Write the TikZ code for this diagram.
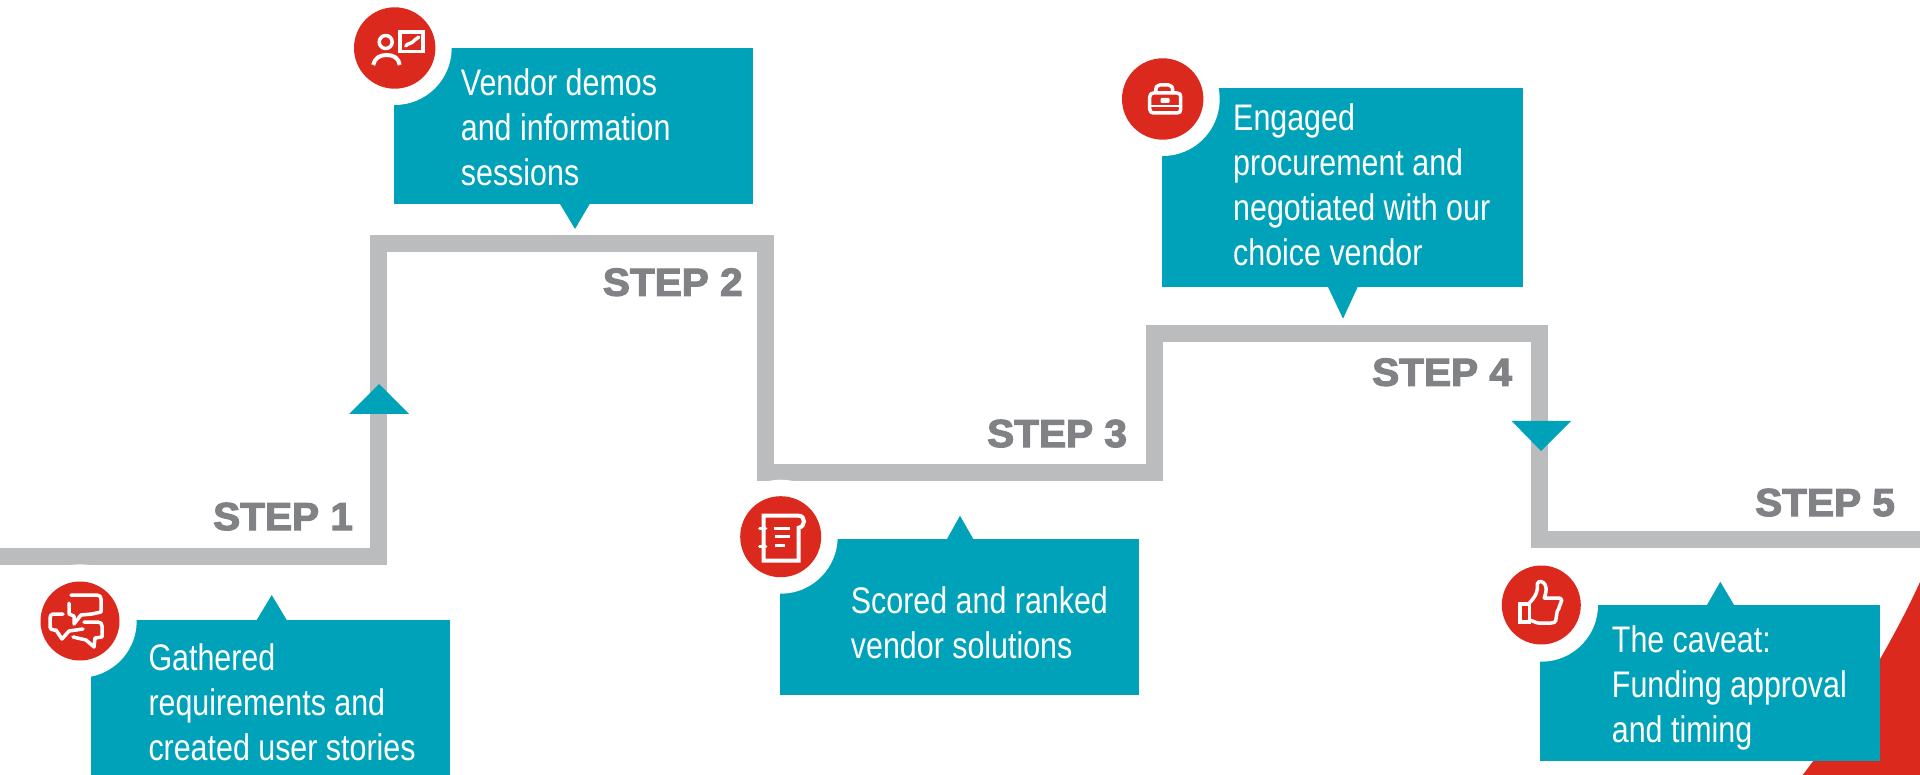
\documentclass[tikz,border=0pt]{standalone}
\usepackage{fontspec}
\setmainfont{Liberation Sans}
\newfontfamily\bodyfont[FakeStretch=0.822]{Liberation Sans}
\newfontfamily\stepfont[FakeBold=3,FakeStretch=1.04]{Liberation Sans Bold}
\definecolor{teal1}{HTML}{00A2B9}
\definecolor{red1}{HTML}{DC291E}
\definecolor{gray1}{HTML}{BBBCBE}
\definecolor{gray2}{HTML}{808285}
\tikzset{
  boxfill/.style={fill=teal1,draw=none},
  badge/.style={circle,fill=red1,draw=none,minimum size=80pt,inner sep=0pt},
  halo/.style={fill=white,draw=none},
  boxtext/.style={anchor=base west,inner sep=0pt,align=left,text=white,font=\bodyfont\fontsize{37}{45}\selectfont},
  steplabel/.style={anchor=base west,inner sep=0pt,text=gray2,font=\stepfont\fontsize{39}{39}\selectfont},
  iconline/.style={draw=white,line width=3.5pt,line join=round,line cap=round,fill=none},
  iconfill/.style={fill=white,draw=none},
}
\begin{document}
\begin{tikzpicture}[x=1pt,y=-1pt]
\useasboundingbox (0,0) rectangle (1920,775);
\fill[white] (0,0) rectangle (1920,775);
% red corner
\fill[red1] (1920,582) .. controls (1898,630) and (1860,700) .. (1802.7,775) -- (1920,775) -- cycle;
% stair line
\coordinate (s0) at (0,556);
\coordinate (s1) at (378.5,556);
\coordinate (s2) at (378.5,244);
\coordinate (s3) at (765,244);
\coordinate (s4) at (765,472);
\coordinate (s5) at (1154.5,472);
\coordinate (s6) at (1154.5,333.5);
\coordinate (s7) at (1539.5,333.5);
\coordinate (s8) at (1539.5,539.7);
\coordinate (s9) at (1920,539.7);
\draw[gray1,line width=17pt,line join=miter] (s0)--(s1)--(s2)--(s3)--(s4)--(s5)--(s6)--(s7)--(s8)--(s9);
% riser triangles
\fill[teal1] (349,414) -- (379,384) -- (409,414) -- cycle;
\fill[teal1] (1511.7,421) -- (1541,451) -- (1571,421) -- cycle;
% boxes
\fill[boxfill] (91,620) rectangle (450,775);
\fill[boxfill] (256.7,620) -- (271.7,595) -- (286.7,620) -- cycle;
\fill[boxfill] (394,48) rectangle (753,204);
\fill[boxfill] (560,204) -- (575,229) -- (589.7,204) -- cycle;
\fill[boxfill] (780,539) rectangle (1139,695);
\fill[boxfill] (947,539) -- (960,515.7) -- (973.3,539) -- cycle;
\fill[boxfill] (1162,88) rectangle (1523,287);
\fill[boxfill] (1328,287) -- (1343,318.7) -- (1357.7,287) -- cycle;
\fill[boxfill] (1540,605) rectangle (1880,761);
\fill[boxfill] (1707,605) -- (1720.3,581.7) -- (1734,605) -- cycle;
% halos
\fill[halo] (80,621) circle (56.7);
\fill[halo] (394.7,48) circle (57);
\fill[halo] (780.7,536.7) circle (57);
\fill[halo] (1162.7,99) circle (57);
\fill[halo] (1541.3,605) circle (56.7);
% badges
\node[badge,minimum size=79pt] (b1) at (80,621) {};
\node[badge,minimum size=81.4pt] (b2) at (394.7,48) {};
\node[badge,minimum size=81pt] (b3) at (780.7,536.7) {};
\node[badge,minimum size=81.4pt] (b4) at (1162.7,99) {};
\node[badge,minimum size=79pt] (b5) at (1541.3,605) {};
% icon 1: chat bubbles
\begin{scope}[shift={(b1.center)}]
\draw[iconline] (-9,-26) -- (17,-26) .. controls (20,-26) and (21,-24) .. (21,-22) -- (21,-9) -- (12,-7) -- (1,-6) -- (-6,3) -- (-6,-5) -- (-11,-7) -- (-11,-18);
\draw[iconline] (-17,-7) -- (-27,-7) .. controls (-29,-7) and (-30,-5) .. (-30,-3) -- (-30,6) .. controls (-30,8) and (-28,9) .. (-26,9) -- (-24,9) -- (-18,18) -- (-11,10) -- (3,8);
\draw[iconline] (4,1) -- (18,1) .. controls (21,1) and (22,3) .. (22,5) -- (22,16) -- (15,17) -- (14,26) -- (6,19) -- (-7,16);
\end{scope}
% icon 2: presenter
\begin{scope}[shift={(b2.center)}]
\draw[iconline] (-9,-6) circle (6.5);
\draw[iconline,line width=4pt,line cap=butt] (-21.5,17) .. controls (-20,10) and (-15,7) .. (-8,7) .. controls (-1,7) and (4,10) .. (5,17);
\draw[iconline,line width=3.6pt,line join=miter] (5,-16) rectangle (28.5,3.5);
\draw[iconline,line width=3.4pt] (11,-2) .. controls (14,-6) and (16,-3) .. (18,-6) .. controls (20,-9) and (21,-8) .. (24,-11);
\end{scope}
% icon 3: notebook
\begin{scope}[shift={(b3.center)}]
\draw[iconline,line width=4pt,line cap=butt,line join=miter] (-17,24) -- (-17,-21) -- (18,-21) .. controls (25,-21) and (25,-10) .. (18,-9) -- (18,24) -- cycle;
\draw[iconline,line width=3.4pt] (-21,-8) -- (-15,-8);
\draw[iconline,line width=3.4pt] (-21,10) -- (-15,10);
\draw[iconline,line cap=butt] (-7,-8) -- (9,-8);
\draw[iconline,line cap=butt] (-6,0) -- (9,0);
\draw[iconline,line cap=butt] (-6,9) -- (4,9);
\end{scope}
% icon 4: case
\begin{scope}[shift={(b4.center)}]
\draw[iconline] (-7,-7) .. controls (-7,-12) and (-6,-14) .. (-3,-14) -- (6,-14) .. controls (9,-14) and (10,-12) .. (10,-7);
\draw[iconline] (-13,-2) .. controls (-13,-5) and (-11,-6) .. (-9,-6) -- (14,-6) .. controls (17,-6) and (18,-5) .. (18,-2) -- (18,10) .. controls (18,13) and (17,14) .. (14,14) -- (-9,14) .. controls (-11,14) and (-13,13) .. (-13,10) -- cycle;
\draw[iconline,line width=2.6pt] (-13,7) -- (18,7);
\fill[iconfill,rounded corners=1pt] (-2,-1) rectangle (7,4);
\end{scope}
% icon 5: thumb
\begin{scope}[shift={(b5.center)}]
\draw[iconline,line join=miter] (-21.5,-1) rectangle (-12,17);
\draw[iconline] (-12,-2) .. controls (-5,-9) and (-3,-15) .. (-4,-21) .. controls (-3,-25) and (2,-24) .. (4,-20) .. controls (6,-15) and (4,-11) .. (3,-7) -- (18,-7) .. controls (21,-6) and (21,-3) .. (19,-1) .. controls (17,1) and (19,3) .. (16,6) .. controls (15,8) and (16,9) .. (15,12) .. controls (15,14) and (15,18) .. (10,18) -- (-3,18) .. controls (-5,18) and (-8,16) .. (-12,15);
\end{scope}
% box texts
\node[boxtext] (t1) at (148.3,760.7) {Gathered\\requirements and\\created user stories};
\node[boxtext] (t2) at (460.7,185.3) {Vendor demos\\and information\\sessions};
\node[boxtext] (t3) at (850.7,658.7) {Scored and ranked\\vendor solutions};
\node[boxtext] (t4) at (1233,265.7) {Engaged\\procurement and\\negotiated with our\\choice vendor};
\node[boxtext] (t5) at (1611.7,742.7) {The caveat:\\Funding approval\\and timing};
% step labels
\node[steplabel] (l1) at (213,530) {STEP 1};
\node[steplabel] (l2) at (602.7,295.7) {STEP 2};
\node[steplabel] (l3) at (987,447) {STEP 3};
\node[steplabel] (l4) at (1372,385.7) {STEP 4};
\node[steplabel] (l5) at (1755,516) {STEP 5};
\end{tikzpicture}
\end{document}
